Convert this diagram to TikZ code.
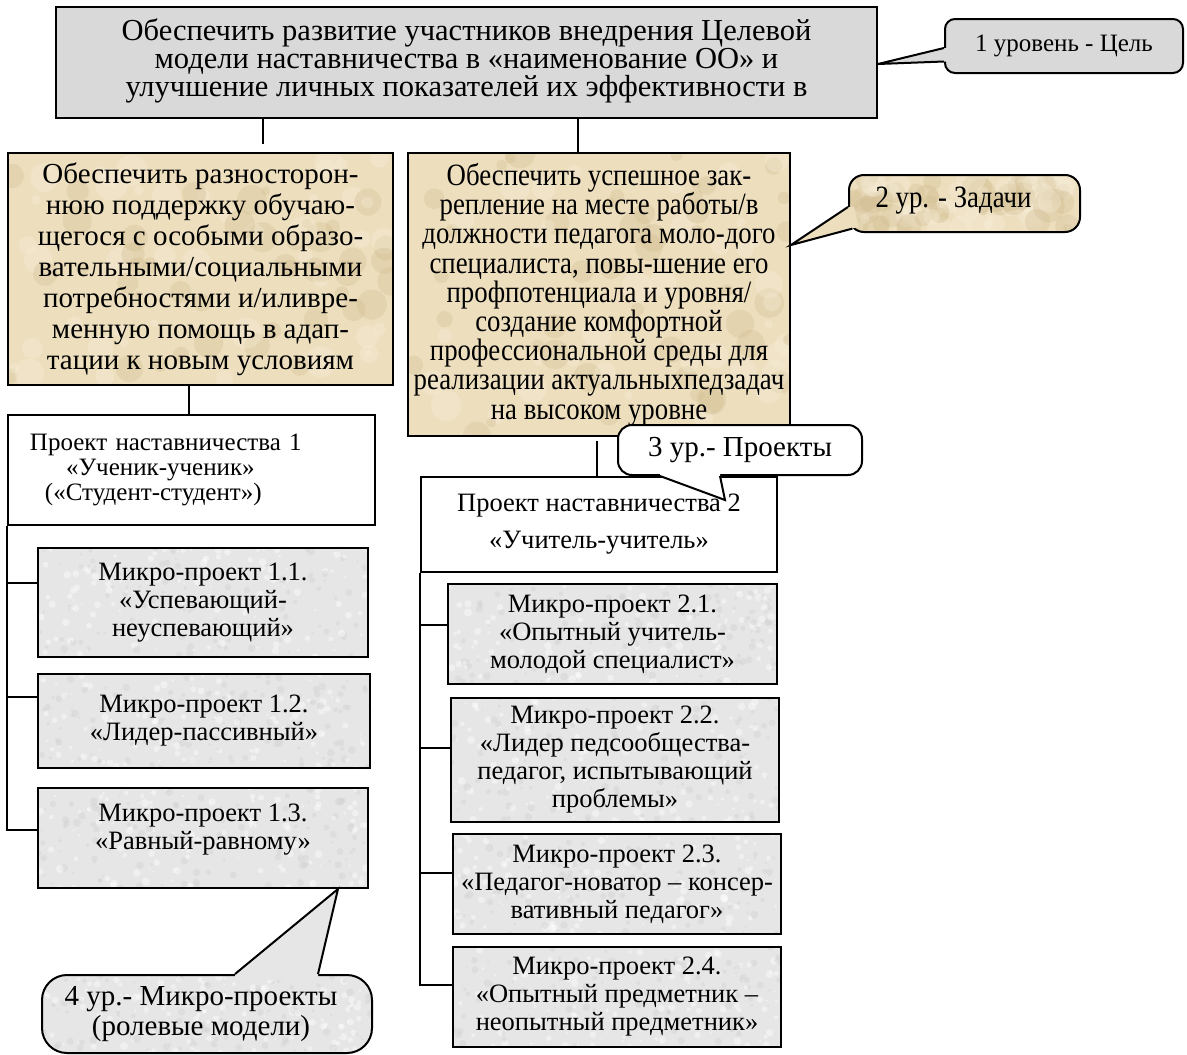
\documentclass[tikz,border=0pt]{standalone}
\usepackage{fontspec}
\setmainfont{Liberation Serif}
\newfontfamily\condfont[FakeStretch=0.865]{Liberation Serif}
\usetikzlibrary{calc}
\definecolor{goalgray}{HTML}{D9D9D9}
\definecolor{parch}{HTML}{EDDFBE}
\definecolor{parchdark}{HTML}{D2BD92}
\definecolor{parchlight}{HTML}{F6EDD8}
\definecolor{granite}{HTML}{E6E6E6}
\pgfmathsetseed{4711}
\begin{document}
\begin{tikzpicture}[x=1pt,y=-1pt,
  box/.style={draw=black, line width=2pt, inner sep=0pt, align=center},
  parchtex/.style={path picture={
    \foreach \i in {1,...,90}{
      \pgfmathsetmacro{\px}{rnd}\pgfmathsetmacro{\py}{rnd}\pgfmathsetmacro{\pr}{4+12*rnd}
      \pgfmathsetmacro{\pc}{rnd>0.5 ? 1 : 0}
      \ifdim\pc pt>0.5pt \def\tc{parchdark}\else\def\tc{parchlight}\fi
      \fill[\tc, opacity=0.35]
        ($($(path picture bounding box.south west)!\px!(path picture bounding box.south east)$)!\py!($(path picture bounding box.north west)!\px!(path picture bounding box.north east)$)$)
        circle (\pr pt);
    }}},
  granitetex/.style={path picture={
    \foreach \i in {1,...,260}{
      \pgfmathsetmacro{\px}{rnd}\pgfmathsetmacro{\py}{rnd}\pgfmathsetmacro{\pr}{1+3*rnd}
      \pgfmathsetmacro{\pc}{rnd>0.5 ? 1 : 0}
      \ifdim\pc pt>0.5pt \def\tc{black!18}\else\def\tc{white}\fi
      \fill[\tc, opacity=0.4]
        ($($(path picture bounding box.south west)!\px!(path picture bounding box.south east)$)!\py!($(path picture bounding box.north west)!\px!(path picture bounding box.north east)$)$)
        circle (\pr pt);
    }}},
  taskbox/.style={box, fill=parch, parchtex},
  microbox/.style={box, fill=granite, granitetex, font=\fontsize{26.5}{28}\selectfont},
  projbox/.style={box, fill=white},
  callbox/.style={draw=black, line width=2pt, inner sep=0pt, align=center},
  conn/.style={line width=2pt},
  tail/.style={line width=2pt, line join=miter}]
\useasboundingbox[fill=white] (0,0) rectangle (1187,1055);

% level 1
\node[box, fill=goalgray, minimum width=821pt, minimum height=111pt,
  font=\fontsize{30.5}{25}\selectfont] (goal) at (466.5,62.5)
  {Обеспечить развитие участников внедрения Целевой\\модели наставничества в «наименование ОО» и\\улучшение личных показателей их эффективности в\\[-15pt]};

% level 2
\node[taskbox, minimum width=385pt, minimum height=232pt,
  font=\fontsize{29}{31}\selectfont] (task1) at (200.5,269)
  {Обеспечить разносторон-\\нюю поддержку обучаю-\\щегося с особыми образо-\\вательными/социальными\\потребностями и/иливре-\\менную помощь в адап-\\тации к новым условиям};
\node[taskbox, minimum width=382pt, minimum height=283pt,
  font=\condfont\fontsize{31}{29.2}\selectfont] (task2) at (599,294.5)
  {Обеспечить успешное зак-\\репление на месте работы/в\\должности педагога моло-дого\\специалиста, повы-шение его\\профпотенциала и уровня/\\создание комфортной\\профессиональной среды для\\реализации актуальныхпедзадач\\на высоком уровне};

% level 3
\node[projbox, minimum width=367pt, minimum height=110pt, text width=323pt,
  inner xsep=22pt, align=left, font=\fontsize{25}{25}\selectfont] (proj1) at (191.5,470)
  {Проект наставничества 1\\\hspace*{36pt}«Ученик-ученик»\\\hspace*{15pt}(«Студент-студент»)\\[-17pt]};
\node[projbox, minimum width=356pt, minimum height=95pt,
  font=\fontsize{26.5}{37}\selectfont] (proj2) at (599,524.5)
  {Проект наставничества 2\\«Учитель-учитель»};

% level 4
\node[microbox, minimum width=330pt, minimum height=109pt] (m11) at (203,602.5)
  {Микро-проект 1.1.\\«Успевающий-\\неуспевающий»};
\node[microbox, minimum width=332pt, minimum height=94pt] (m12) at (204,721)
  {Микро-проект 1.2.\\«Лидер-пассивный»};
\node[microbox, minimum width=330pt, minimum height=100pt] (m13) at (203,838)
  {Микро-проект 1.3.\\«Равный-равному»\\[-6pt]};
\node[microbox, minimum width=329pt, minimum height=100pt] (m21) at (612.5,634)
  {Микро-проект 2.1.\\«Опытный учитель-\\молодой специалист»};
\node[microbox, minimum width=328pt, minimum height=124pt] (m22) at (615,760)
  {Микро-проект 2.2.\\«Лидер педсообщества-\\педагог, испытывающий\\проблемы»};
\node[microbox, minimum width=328pt, minimum height=100pt] (m23) at (617,884)
  {Микро-проект 2.3.\\«Педагог-новатор – консер-\\вативный педагог»};
\node[microbox, minimum width=328pt, minimum height=100pt] (m24) at (617,997)
  {Микро-проект 2.4.\\«Опытный предметник –\\неопытный предметник»};

% connectors
\draw[conn, shorten >=8pt] (goal.south -| 263,0) -- (task1.north -| 263,0);
\draw[conn] (goal.south -| 578,0) -- (task2.north -| 578,0);
\draw[conn] (task1.south -| 189,0) -- (proj1.north -| 189,0);
\draw[conn, shorten <=4pt] (task2.south -| 597,0) -- (proj2.north -| 597,0);
\draw[conn] (proj1.south west) |- (m13.west |- 0,830);
\draw[conn] (proj1.south west |- 0,583) -- (m11.west |- 0,583);
\draw[conn] (proj1.south west |- 0,697) -- (m12.west |- 0,697);
\draw[conn] (proj2.south west) |- (m24.west |- 0,985);
\draw[conn] (proj2.south west |- 0,625) -- (m21.west |- 0,625);
\draw[conn] (proj2.south west |- 0,748) -- (m22.west |- 0,748);
\draw[conn] (proj2.south west |- 0,873) -- (m23.west |- 0,873);

% callout 1
\node[callbox, fill=goalgray, minimum width=238pt, minimum height=54pt,
  rounded corners=10pt, font=\fontsize{25}{26}\selectfont] (c1) at (1064,46) {1 уровень - Цель};
\coordinate (t1) at (goal.east |- 0,64);
\coordinate (c1a) at (c1.west |- 0,48);
\coordinate (c1b) at (c1.west |- 0,61.5);
\fill[goalgray] (c1a) -- (t1) -- (c1b) -- ($(c1b)+(5,0)$) -- ($(c1a)+(5,0)$) -- cycle;
\draw[tail] (c1a) -- (t1) -- (c1b);

% callout 2
\node[callbox, fill=parch, parchtex, minimum width=231pt, minimum height=57pt,
  rounded corners=15pt, font=\condfont\fontsize{31}{29}\selectfont] (c2) at (964.5,203.5) {2 ур. - Задачи\hspace*{22pt}\\[-16pt]};
\coordinate (t2) at (task2.east |- 0,245);
\coordinate (c2a) at (c2.west |- 0,207);
\coordinate (c2b) at ($(c2.south west)+(4.4,-4.4)$);
\fill[parch] (c2a) -- (t2) -- (c2b) -- ($(c2b)+(6,-2)$) -- ($(c2a)+(6,0)$) -- cycle;
\draw[tail] (c2a) -- (t2) -- (c2b);

% callout 3
\node[callbox, fill=white, minimum width=244pt, minimum height=50pt,
  rounded corners=14pt, font=\fontsize{29}{29}\selectfont] (c3) at (740,450) {3 ур.- Проекты};
\coordinate (t3) at (725,500);
\coordinate (c3a) at (c3.south -| 660,0);
\coordinate (c3b) at (c3.south -| 720,0);
\fill[white] (c3a) -- (t3) -- (c3b) -- ($(c3b)+(0,-5)$) -- ($(c3a)+(0,-5)$) -- cycle;
\draw[tail] (c3a) -- (t3) -- (c3b);

% callout 4
\node[callbox, fill=granite, granitetex, minimum width=330pt, minimum height=78pt,
  rounded corners=25pt, font=\fontsize{29}{30}\selectfont] (c4) at (207,1014)
  {4 ур.- Микро-проекты\hspace*{12pt}\\(ролевые модели)\hspace*{12pt}};
\coordinate (t4) at (m13.south -| 338,0);
\coordinate (c4a) at (c4.north -| 235,0);
\coordinate (c4b) at (c4.north -| 318,0);
\fill[granite] (c4a) -- (t4) -- (c4b) -- ($(c4b)+(0,6)$) -- ($(c4a)+(0,6)$) -- cycle;
\draw[tail] (c4a) -- (t4) -- (c4b);
\end{tikzpicture}
\end{document}
